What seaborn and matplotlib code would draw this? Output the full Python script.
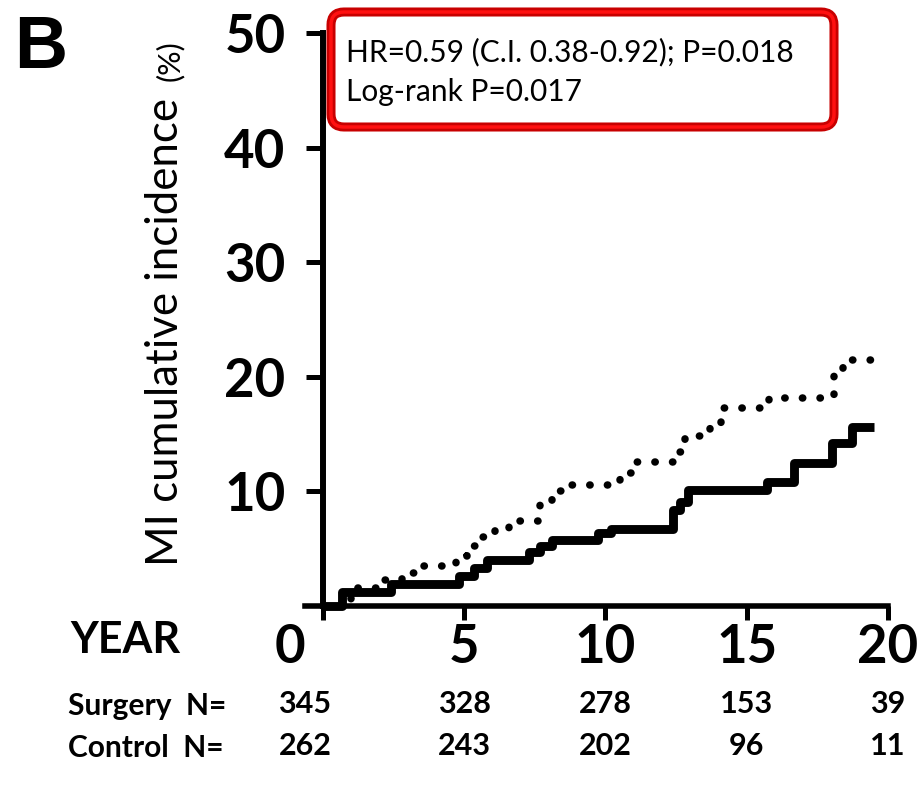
import numpy as np
import pandas as pd
import matplotlib
matplotlib.use("Agg")
import matplotlib.pyplot as plt
import seaborn as sns
from matplotlib.patches import FancyBboxPatch
from matplotlib.transforms import ScaledTranslation, blended_transform_factory

# ---------------- data ----------------
surgery_t = [0, 0.66, 2.42, 4.82, 5.35, 5.8, 7.3, 7.7, 8.1, 9.75, 10.2,
             12.4, 12.63, 12.92, 15.72, 16.68, 18.03, 18.73, 19.5]
surgery_y = [0, 1.2, 1.95, 2.6, 3.3, 4.0, 4.7, 5.2, 5.75, 6.35, 6.7,
             8.4, 9.1, 10.1, 10.85, 12.45, 14.2, 15.65, 15.65]

control_t = [0, 1.0, 2.1, 2.8, 3.4, 4.7, 5.1, 5.6, 6.1, 6.6, 7.7, 8.1, 8.6,
             10.5, 11.0, 12.5, 12.8, 13.7, 14.1, 15.8, 18.1, 18.4, 19.5]
control_y = [0, 1.6, 2.3, 2.9, 3.45, 4.35, 5.25, 6.05, 6.7, 7.4, 9.0, 10.0, 10.56,
             11.63, 12.6, 13.4, 14.8, 16.0, 17.25, 18.12, 20.45, 21.47, 21.47]

year_ticks = [0, 5, 10, 15, 20]
y_ticks = [10, 20, 30, 40, 50]
surgery_n = [345, 328, 278, 153, 39]
control_n = [262, 243, 202, 96, 11]
hr_text = "HR=0.59 (C.I. 0.38-0.92); P=0.018"
lr_text = "Log-rank P=0.017"

# ---------------- style ----------------
sns.set_style("ticks")
plt.rcParams["font.family"] = ["Lato", "DejaVu Sans"]
for k in ["text.color", "xtick.color", "ytick.color", "axes.edgecolor", "axes.labelcolor"]:
    plt.rcParams[k] = "black"

W, H = 921, 791
fig = plt.figure(figsize=(W / 100, H / 100), dpi=100)
ax = fig.add_axes([304.5 / W, 185 / H, 583.5 / W, 573 / H])

df_s = pd.DataFrame({"t": surgery_t, "y": surgery_y})
df_c = pd.DataFrame({"t": control_t, "y": control_y})

sns.lineplot(data=df_c, x="t", y="y", ax=ax, drawstyle="steps-post",
             estimator=None, color="black", linewidth=5.4,
             linestyle=(0, (0.05, 2.3)), dash_capstyle="round", clip_on=False)
sns.lineplot(data=df_s, x="t", y="y", ax=ax, drawstyle="steps-post",
             estimator=None, color="black", linewidth=6.4, solid_capstyle="butt",
             clip_on=False)

ax.set_xlim(-0.65, 20)
ax.set_ylim(0, 50)
ax.spines["left"].set_position(("data", 0))
ax.spines["top"].set_visible(False)
ax.spines["right"].set_visible(False)
ax.spines["left"].set_linewidth(4.3)
ax.spines["bottom"].set_linewidth(4.0)
ax.set_xlabel("")
ax.set_ylabel("")

ax.set_yticks(y_ticks)
ax.set_yticklabels([str(v) for v in y_ticks], fontsize=38, fontweight="bold")
ax.tick_params(axis="y", direction="out", length=12, width=3.6, pad=15, color="black")
ax.set_xticks(year_ticks)
ax.set_xticklabels([str(v) for v in year_ticks], fontsize=38, fontweight="bold")
ax.tick_params(axis="x", direction="out", length=10, width=3.6, pad=2, color="black")
# the "0" label sits left of its tick in the reference
lab0 = ax.get_xticklabels()[0]
lab0.set_transform(lab0.get_transform() + ScaledTranslation(-0.33, 0, fig.dpi_scale_trans))

# y label in two parts
fig.text(166 / W, 1 - 332 / H, "MI cumulative incidence", rotation=90,
         ha="center", va="center", fontsize=31.5)
fig.text(170 / W, 1 - 61 / H, "(%)", rotation=90, ha="center", va="center", fontsize=22)

# panel letter
fig.text(14 / W, 1 - 68 / H, "B", fontsize=53, fontweight="bold",
         family=["Liberation Sans", "DejaVu Sans"], ha="left", va="baseline")

# YEAR label
fig.text(125 / W, 1 - 640 / H, "YEAR", fontsize=31, fontweight="bold",
         ha="center", va="center")

# numbers at risk
trans = blended_transform_factory(ax.transData, fig.transFigure)
fig.text(68 / W, 1 - 706 / H, "Surgery  N=", fontsize=21.5, fontweight="bold",
         ha="left", va="center")
fig.text(68 / W, 1 - 748 / H, "Control  N=", fontsize=21.5, fontweight="bold",
         ha="left", va="center")
for i, (yr, s, c) in enumerate(zip(year_ticks, surgery_n, control_n)):
    tr = trans
    if i == 0:
        tr = trans + ScaledTranslation(-0.18, 0, fig.dpi_scale_trans)
    ax.text(yr, 1 - 704 / H, str(s), transform=tr, fontsize=22, fontweight="bold",
            ha="center", va="center")
    ax.text(yr, 1 - 746 / H, str(c), transform=tr, fontsize=22, fontweight="bold",
            ha="center", va="center")

# annotation box
box = FancyBboxPatch((3.31, (H - 127) / 100), 5.03, 1.15,
                     boxstyle="round,pad=0,rounding_size=0.13",
                     transform=fig.dpi_scale_trans, facecolor="white",
                     edgecolor="#c80000", linewidth=6.5, zorder=5)
fig.patches.append(box)
box2 = FancyBboxPatch((3.31, (H - 127) / 100), 5.03, 1.15,
                      boxstyle="round,pad=0,rounding_size=0.13",
                      transform=fig.dpi_scale_trans, facecolor="none",
                      edgecolor="#ff1010", linewidth=2.5, zorder=6)
fig.patches.append(box2)
fig.text(346 / W, 1 - 52 / H, hr_text, fontsize=21.5,
         ha="left", va="center", zorder=7)
fig.text(346 / W, 1 - 92 / H, lr_text, fontsize=21.5,
         ha="left", va="center", zorder=7)

fig.savefig("out.png", dpi=100)
